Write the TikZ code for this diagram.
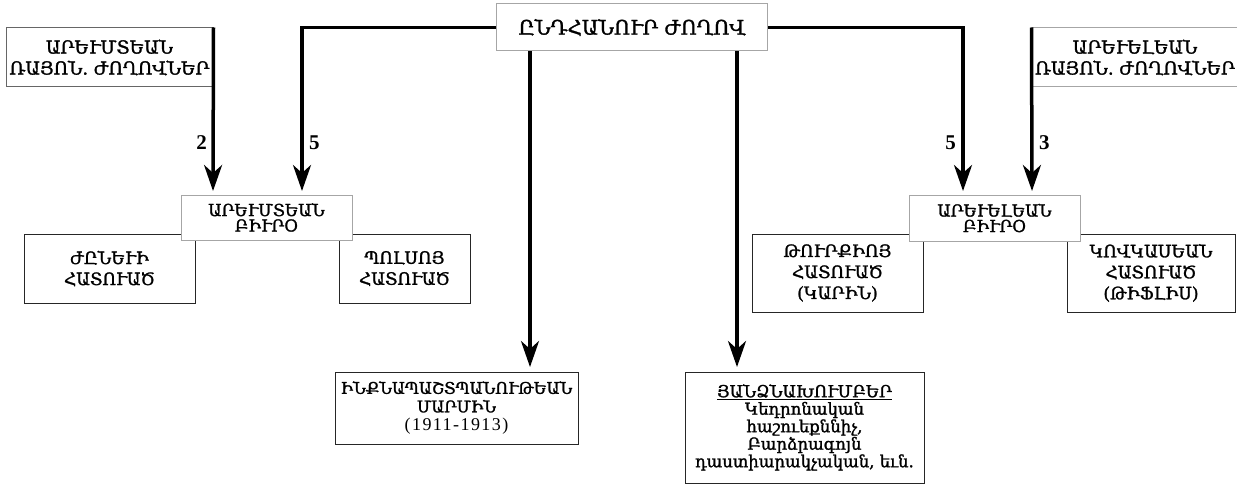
\documentclass[tikz,border=0pt]{standalone}
\usepackage{fontspec}
\setmainfont{Liberation Serif}
\newfontfamily\arm[FakeBold=1.5]{DejaVu Serif}
\newfontfamily\yrs[LetterSpace=8]{Liberation Serif}
\usetikzlibrary{arrows.meta}
\begin{document}
\begin{tikzpicture}[x=1pt,y=-1pt,
  box/.style={draw=black!85, line width=1pt, fill=white, align=center, inner sep=0pt, font=\arm\fontsize{17}{21}\selectfont},
  graybox/.style={box, draw=black!35, font=\arm\fontsize{16.5}{15.5}\selectfont},
  bigbox/.style={box, font=\arm\fontsize{18}{21}\selectfont},
  arr/.style={line width=3.5pt, -{Stealth[length=26pt,width=18pt,inset=8pt]}},
  lbl/.style={font=\bfseries\fontsize{21}{23}\selectfont, inner sep=0pt}
]
\useasboundingbox (0,0) rectangle (1237,492);
% lower boxes first
\node[box, minimum width=171pt, minimum height=69pt] (zh) at (109.5,268.5) {ԺԸՆԵՒԻ\\ՀԱՏՈՒԱԾ};
\node[box, minimum width=131pt, minimum height=69pt] (pl) at (404.5,268.5) {ՊՈԼՍՈՅ\\ՀԱՏՈՒԱԾ};
\node[box, minimum width=171pt, minimum height=78pt] (tk) at (837.5,273) {ԹՈՒՐՔԻՈՅ\\ՀԱՏՈՒԱԾ\\(ԿԱՐԻՆ)};
\node[box, minimum width=168pt, minimum height=78pt] (kv) at (1151,273) {ԿՈՎԿԱՍԵԱՆ\\ՀԱՏՈՒԱԾ\\(ԹԻՖԼԻՍ)};
\node[graybox, minimum width=171pt, minimum height=45pt] (wb) at (266.5,217.5) {ԱՐԵՒՄՏԵԱՆ\\ԲԻՒՐՕ};
\node[graybox, minimum width=171pt, minimum height=46pt] (eb) at (994.5,218) {ԱՐԵՒԵԼԵԱՆ\\ԲԻՒՐՕ};
\node[box, font=\arm\fontsize{16}{18.5}\selectfont, minimum width=243pt, minimum height=72pt] (ink) at (456.5,408) {ԻՆՔՆԱՊԱՇՏՊԱՆՈՒԹԵԱՆ\\ՄԱՐՄԻՆ\\{\yrs\fontsize{18}{18.5}\selectfont (1911-1913)}};
\node[box, font=\arm\fontsize{16.5}{17.5}\selectfont, minimum width=239pt, minimum height=111pt] (yan) at (804.5,427.5) {\underline{ՅԱՆՁՆԱԽՈՒՄԲԵՐ}\\Կեդրոնական\\հաշուեքննիչ,\\Բարձրագոյն\\դաստիարակչական, եւն.};
% top boxes
\node[bigbox, font=\arm\fontsize{20}{22}\selectfont, draw=black!35, minimum width=271pt, minimum height=47pt] (top) at (632,27.5) {ԸՆԴՀԱՆՈՒՐ ԺՈՂՈՎ};
\node[bigbox, draw=black!60, minimum width=207pt, minimum height=59pt] (rw) at (109.5,57.5) {ԱՐԵՒՄՏԵԱՆ\\ՌԱՅՈՆ. ԺՈՂՈՎՆԵՐ};
\node[bigbox, draw=black!35, minimum width=206pt, minimum height=59pt] (re) at (1135,57.5) {ԱՐԵՒԵԼԵԱՆ\\ՌԱՅՈՆ. ԺՈՂՈՎՆԵՐ};
% arrow ends
\coordinate (w2) at (213,191);
\coordinate (w5) at (302,191);
\coordinate (e5) at (963,191);
\coordinate (e3) at (1032,191);
\coordinate (m1) at (530,367);
\coordinate (m2) at (737,367);
\draw[arr] (rw.north east) -- (w2);
\draw[arr] (top.west) -| (w5);
\draw[arr] (top.east) -| (e5);
\draw[arr] (re.north west) -- (e3);
\draw[arr] (m1 |- top.south) -- (m1);
\draw[arr] (m2 |- top.south) -- (m2);
% labels
\node[lbl, anchor=east] (l2) at (207,143) {2};
\node[lbl, anchor=west] (l5a) at (309,143) {5};
\node[lbl, anchor=east] (l5b) at (956,143) {5};
\node[lbl, anchor=west] (l3) at (1039,143) {3};
\end{tikzpicture}
\end{document}
